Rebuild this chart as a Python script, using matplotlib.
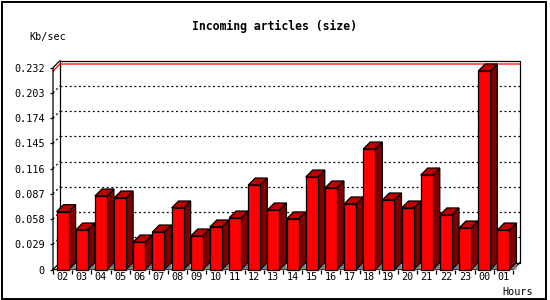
import matplotlib
matplotlib.use("Agg")
import matplotlib.pyplot as plt
from matplotlib.patches import Polygon, Rectangle

# ---- data ----
hours = ['02', '03', '04', '05', '06', '07', '08', '09', '10', '11', '12', '13',
         '14', '15', '16', '17', '18', '19', '20', '21', '22', '23', '00', '01']
values = [0.0665, 0.0454, 0.0845, 0.0822, 0.0316, 0.0431, 0.0707, 0.0385,
          0.0489, 0.0592, 0.0971, 0.0684, 0.0581, 0.1063, 0.0937, 0.0753,
          0.1385, 0.0799, 0.0707, 0.1086, 0.0627, 0.0477, 0.2282, 0.0454]
ytick_values = [0, 0.029, 0.058, 0.087, 0.116, 0.145, 0.174, 0.203, 0.232]
ytick_labels = ['0', '0.029', '0.058', '0.087', '0.116', '0.145', '0.174', '0.203', '0.232']
title = 'Incoming articles (size)'
ylabel = 'Kb/sec'
xlabel = 'Hours'

# ---- style ----
W, H, DPI = 550, 300, 100
FRONT = '#ff0000'
TOP = '#c00000'
SIDE = '#800000'
SHADOW = '#808080'
MONO = 'DejaVu Sans Mono'
LW = 0.9

fig = plt.figure(figsize=(W / DPI, H / DPI), dpi=DPI)
fig.patch.set_facecolor('white')

# axes: front plane, x 53..513 px, y 269.5..67.7 px
x0px, x1px = 53, 513
y0px, y1px = 269.5, 67.7
ax = fig.add_axes([x0px / W, (H - y0px) / H, (x1px - x0px) / W, (y0px - y1px) / H])
n = len(hours)
ymax = ytick_values[-1]
ax.set_xlim(0, n)
ax.set_ylim(0, ymax)
ax.set_facecolor('none')
for s in ax.spines.values():
    s.set_visible(False)

# depth offset in data units (7 px)
dx = 7 / (x1px - x0px) * n
dy = 7 / (y0px - y1px) * ymax

# back wall outline
ax.add_patch(Rectangle((dx, dy), n, ymax, fill=False, edgecolor='black',
                       linewidth=LW, clip_on=False, zorder=1))
# grid lines on back wall + dotted diagonals on left wall
for v in ytick_values[1:-1]:
    ax.plot([dx, n + dx], [v + dy, v + dy], color='black', linewidth=LW,
            linestyle=(0, (1.5, 2.2)), clip_on=False, zorder=1)
    ax.plot([0, dx], [v, v + dy], color='black', linewidth=LW,
            linestyle=(0, (1.5, 2.2)), clip_on=False, zorder=1)
# max line (red)
vmax = max(values)
ax.plot([0, dx, n + dx], [vmax, vmax + dy, vmax + dy], color='red',
        linewidth=LW, clip_on=False, zorder=1.5)

# front axis, top diagonal, floor
ax.plot([0, 0, dx], [0, ymax, ymax + dy], color='black', linewidth=LW, clip_on=False, zorder=2)
ax.plot([0, dx], [0, dy], color='black', linewidth=LW, clip_on=False, zorder=2)
ax.plot([0, n, n + dx], [0, 0, dy], color='black', linewidth=LW, clip_on=False, zorder=2)

# bars
bw = 0.63
for i, v in enumerate(values):
    xl = i + 0.5 - bw / 2
    xr = i + 0.5 + bw / 2
    # shadow triangle on floor
    ax.add_patch(Polygon([(xr, 0), (xr + dx, dy), (xr + dx, 0)], closed=True,
                         facecolor=SHADOW, edgecolor='none', clip_on=False, zorder=3))
    # side
    ax.add_patch(Polygon([(xr, 0), (xr + dx, dy), (xr + dx, v + dy), (xr, v)], closed=True,
                         facecolor=SIDE, edgecolor='black', linewidth=LW, clip_on=False, zorder=4))
    # top
    ax.add_patch(Polygon([(xl, v), (xr, v), (xr + dx, v + dy), (xl + dx, v + dy)], closed=True,
                         facecolor=TOP, edgecolor='black', linewidth=LW, clip_on=False, zorder=4))
ax.bar([i + 0.5 for i in range(n)], values, width=bw, color=FRONT, edgecolor='black',
       linewidth=LW, zorder=5, clip_on=False)

# ticks
ax.set_yticks(ytick_values)
ax.set_yticklabels(ytick_labels, fontsize=7.3, family=MONO)
ax.tick_params(axis='y', direction='out', length=2.5, width=LW, pad=3.5)
ax.set_xticks(range(n + 1))
ax.set_xticklabels([''] * (n + 1))
ax.tick_params(axis='x', which='major', direction='out', length=3, width=LW)
ax.set_xticks([i + 0.5 for i in range(n)], minor=True)
ax.set_xticklabels(hours, minor=True, fontsize=7.3, family=MONO)
ax.tick_params(axis='x', which='minor', length=0, pad=2)

# texts
fig.text(274 / W, 1 - 26.5 / H, title, ha='center', va='center', fontsize=8.3,
         fontweight='bold', family=MONO)
fig.text(29 / W, 1 - 37 / H, ylabel, ha='left', va='center', fontsize=7.3, family=MONO)
fig.text(533 / W, 1 - 292 / H, xlabel, ha='right', va='center', fontsize=7.3, family=MONO)

# outer frame
fig.add_artist(Rectangle((1.5 / W, 1.5 / H), 544 / W, 296.5 / H, fill=False,
                         edgecolor='black', linewidth=1.4, transform=fig.transFigure))

fig.savefig('out.png', dpi=DPI, facecolor='white')
